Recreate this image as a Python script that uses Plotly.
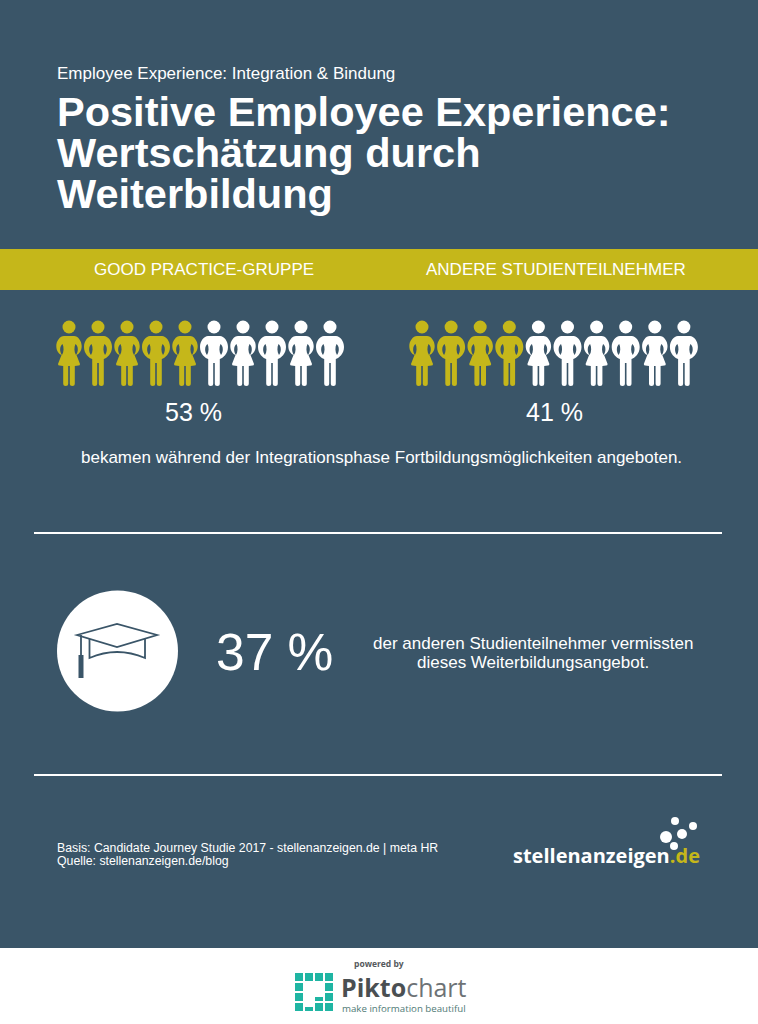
import plotly.graph_objects as go

# canvas is in pixels of the 758x1024 page
BG = '#3a5568'
GOLD = '#c5b71a'
WHITE = '#ffffff'
TEAL = '#1fb5a3'
FONT = 'Liberation Sans'

groups = ['GOOD PRACTICE-GRUPPE', 'ANDERE STUDIENTEILNEHMER']
shares = [53, 41]
highlighted = [5, 4]
person_kinds = ['f', 'm', 'f', 'm', 'f', 'm', 'f', 'm', 'f', 'm']
group_x0 = [69, 422]
group_step = [29.0, 29.1]
group_label_x = [203.5, 555.5]
share_label_x = [193.5, 554.5]
missed_share = 37

kicker = 'Employee Experience: Integration & Bindung'
title_lines = ['Positive Employee Experience:', 'Wertschätzung durch', 'Weiterbildung']
caption = 'bekamen während der Integrationsphase Fortbildungsmöglichkeiten angeboten.'
missed_lines = ['der anderen Studienteilnehmer vermissten', 'dieses Weiterbildungsangebot.']
source_lines = ['Basis: Candidate Journey Studie 2017 - stellenanzeigen.de | meta HR',
                'Quelle: stellenanzeigen.de/blog']
pikto_cells = [(0, 0), (0, 1), (0, 2), (0, 3), (1, 0), (1, 3), (2, 0), (2, 3),
               (3, 0), (3, 2), (3, 3)]
pikto_half_cells = [(2, 2), (3, 1)]


def person_path(cx, kind, top=327):
    def p(x, y):
        return f'{cx + x:.1f},{top + y:.1f}'

    def side(s):
        # gap between arm and body
        return (f'M{p(s * 6.5, 17)} C{p(s * 9.5, 19)} {p(s * 9.5, 25)} {p(s * 7, 28)} '
                f'C{p(s * 5, 25)} {p(s * 5, 20)} {p(s * 6.5, 17)} Z ')

    if kind == 'm':
        return (f'M{p(-6, 9)} L{p(6, 9)} C{p(10, 9)} {p(14, 14)} {p(14, 20)} '
                f'C{p(14, 27)} {p(9, 31)} {p(5.8, 32)} L{p(5.8, 56.5)} Q{p(5.8, 59)} {p(3.3, 59)} '
                f'Q{p(0.8, 59)} {p(0.8, 56.5)} L{p(0.8, 36)} L{p(-0.8, 36)} L{p(-0.8, 56.5)} '
                f'Q{p(-0.8, 59)} {p(-3.3, 59)} Q{p(-5.8, 59)} {p(-5.8, 56.5)} L{p(-5.8, 32)} '
                f'C{p(-9, 31)} {p(-14, 27)} {p(-14, 20)} C{p(-14, 14)} {p(-10, 9)} {p(-6, 9)} Z '
                + side(-1) + side(1))
    return (f'M{p(-5, 9)} L{p(5, 9)} C{p(9, 9)} {p(12.7, 14)} {p(12.7, 19)} '
            f'C{p(12.7, 24)} {p(10, 27)} {p(7.5, 28)} L{p(11, 37)} Q{p(11, 38.5)} {p(9.5, 38.5)} '
            f'L{p(5.8, 39)} L{p(5.8, 56.5)} '
            f'Q{p(5.8, 59)} {p(3.3, 59)} Q{p(0.8, 59)} {p(0.8, 56.5)} L{p(0.8, 39)} L{p(-0.8, 39)} '
            f'L{p(-0.8, 56.5)} Q{p(-0.8, 59)} {p(-3.3, 59)} Q{p(-5.8, 59)} {p(-5.8, 56.5)} '
            f'L{p(-5.8, 39)} L{p(-9.5, 38.5)} Q{p(-11, 38.5)} {p(-11, 37)} '
            f'L{p(-7.5, 28)} C{p(-10, 27)} {p(-12.7, 24)} {p(-12.7, 19)} '
            f'C{p(-12.7, 14)} {p(-9, 9)} {p(-5, 9)} Z '
            + side(-1) + side(1))


fig = go.Figure()
shapes = []
annotations = []


def add_text(x, y, text, size, color=WHITE, anchor='left', bold=False, font=FONT):
    annotations.append(dict(
        x=x, y=y, xref='x', yref='y', text=f'<b>{text}</b>' if bold else text,
        showarrow=False, xanchor=anchor, yanchor='middle', borderpad=0,
        font=dict(family=font, size=size, color=color),
    ))


def rect(x0, y0, x1, y1, color):
    shapes.append(dict(type='rect', x0=x0, y0=y0, x1=x1, y1=y1, xref='x', yref='y',
                       fillcolor=color, line_width=0))


def dot(cx, cy, r, color):
    shapes.append(dict(type='circle', x0=cx - r, y0=cy - r, x1=cx + r, y1=cy + r,
                       xref='x', yref='y', fillcolor=color, line_width=0))


rect(0, 0, 758, 948, BG)
rect(0, 948, 758, 1024, WHITE)
rect(0, 249, 758, 290, GOLD)
rect(34, 532, 722, 534, WHITE)
rect(34, 774, 722, 776, WHITE)

add_text(55.5, 73, kicker, 17)
for i, line in enumerate(title_lines):
    add_text(56, 111 + i * 41, line, 41.5, bold=True)

for g, name in enumerate(groups):
    add_text(group_label_x[g], 269, name, 17, anchor='center')
    for i, kind in enumerate(person_kinds):
        cx = group_x0[g] + i * group_step[g]
        color = GOLD if i < highlighted[g] else WHITE
        dot(cx, 327, 6.5, color)
        shapes.append(dict(type='path', path=person_path(cx, kind), xref='x', yref='y',
                           fillcolor=color, line_width=0))
    add_text(share_label_x[g], 412, f'{shares[g]} %', 25, anchor='center')

add_text(381.5, 457, caption, 17, anchor='center')

# graduation cap
dot(117.5, 651, 60.5, WHITE)
cap = dict(xref='x', yref='y', line=dict(color=BG, width=1.8))
shapes.append(dict(type='path', path='M77,635 L117,624 L157,635 L117,647 Z', **cap))
shapes.append(dict(type='path', path='M89.5,639 L89.5,658 Q117,646 145,658 L145,638', **cap))
shapes.append(dict(type='path', path='M81,635 L81,656', **cap))
rect(78.5, 655, 83.5, 678, BG)

add_text(274, 652, f'{missed_share} %', 51.5, anchor='center')
for i, line in enumerate(missed_lines):
    add_text(532.5, 643 + i * 19, line, 17, anchor='center')

for i, line in enumerate(source_lines):
    add_text(56, 848 + i * 13.3, line, 12.3)

# stellenanzeigen.de logo
for cx, cy, r in [(675, 821, 4), (693, 826, 4), (682, 834, 5), (666, 837, 6), (674, 846, 4)]:
    dot(cx, cy, r, WHITE)
annotations.append(dict(
    x=511.5, y=855, xref='x', yref='y', showarrow=False, xanchor='left', yanchor='middle',
    borderpad=0, font=dict(family='Open Sans', size=20, color=WHITE),
    text=f'<b>stellenanzeigen<span style="color:{GOLD}">.de</span></b>',
))

# Piktochart footer
add_text(378.5, 963, 'powered by', 8.5, color='#55595c', anchor='center', bold=True, font='Open Sans')
for r, c in pikto_cells:
    rect(295 + c * 10, 973 + r * 10, 303 + c * 10, 981 + r * 10, TEAL)
for r, c in pikto_half_cells:
    rect(295 + c * 10, 977 + r * 10, 303 + c * 10, 981 + r * 10, TEAL)
annotations.append(dict(
    x=340, y=987, xref='x', yref='y', showarrow=False, xanchor='left', yanchor='middle',
    borderpad=0, font=dict(family='Open Sans', size=25, color='#4a4f52'),
    text='<b>Pikto</b><span style="color:#6d7275">chart</span>',
))
add_text(341, 1008, 'make information beautiful', 9.7, color='#4f7a76', font='Open Sans')

fig.update_xaxes(range=[0, 758], visible=False, fixedrange=True)
fig.update_yaxes(range=[1024, 0], visible=False, fixedrange=True)
fig.update_layout(
    width=758, height=1024, margin=dict(l=0, r=0, t=0, b=0),
    paper_bgcolor=WHITE, plot_bgcolor=WHITE,
    shapes=shapes, annotations=annotations, showlegend=False,
)

fig.write_html('out.html', config=dict(displayModeBar=False),
               post_script="document.body.style.margin='0';document.body.style.overflow='hidden';")
